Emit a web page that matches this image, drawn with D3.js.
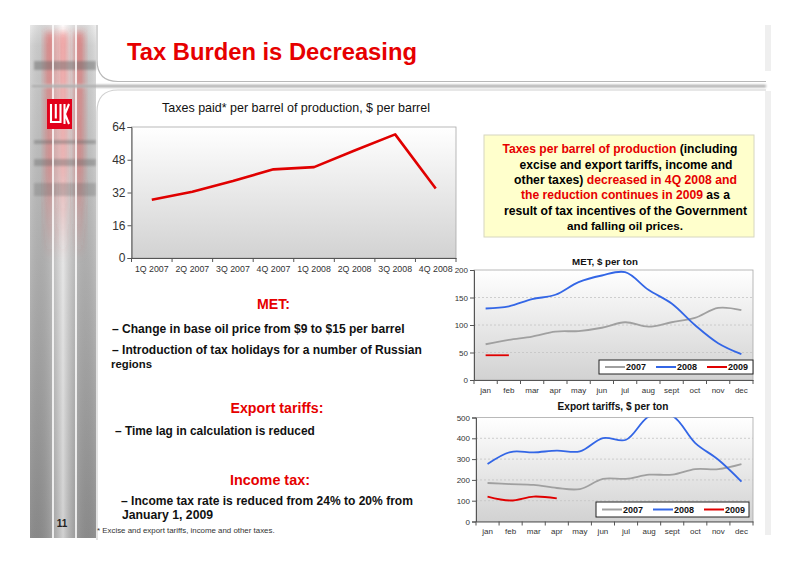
<!DOCTYPE html>
<html>
<head>
<meta charset="utf-8">
<script src="https://cdn.jsdelivr.net/npm/d3@7"></script>
<style>
  body { margin: 0; background: #fff; }
  svg { display: block; font-family: "Liberation Sans", Arial, sans-serif; }
</style>
</head>
<body>
<div id="vis"></div>
<script>
// ---- data ----
var quarters = ['1Q 2007', '2Q 2007', '3Q 2007', '4Q 2007', '1Q 2008', '2Q 2008', '3Q 2008', '4Q 2008'];
var taxesPaid = [28.5, 32.4, 37.6, 43.3, 44.4, 52.5, 60.4, 34];
var taxTicks = [0, 16, 32, 48, 64];

var months = ['jan', 'feb', 'mar', 'apr', 'may', 'jun', 'jul', 'aug', 'sept', 'oct', 'nov', 'dec'];
var met2007 = [65, 73, 79, 88, 89, 95, 105, 97, 105, 113, 131, 127];
var met2008 = [130, 134, 147, 155, 178, 190, 196, 164, 139, 100, 67, 47];
var met2009 = [45, 45];
var metTicks = [0, 50, 100, 150, 200];

var exp2007 = [185, 180, 176, 161, 156, 205, 205, 225, 225, 252, 252, 276];
var exp2008 = [276, 334, 332, 341, 337, 401, 393, 505, 508, 377, 297, 192];
var exp2009 = [120, 101, 120, 111];
var expTicks = [0, 100, 200, 300, 400, 500];

var years = ['2007', '2008', '2009'];
var yearColors = ['#a0a0a0', '#3366e6', '#e00000'];

var W = 800, H = 566;
var svg = d3.select('#vis').append('svg').attr('width', W).attr('height', H);
var defs = svg.append('defs');

function grad(id, stops, horizontal) {
  var g = defs.append('linearGradient').attr('id', id)
    .attr('x1', 0).attr('y1', 0)
    .attr('x2', horizontal ? 1 : 0).attr('y2', horizontal ? 0 : 1);
  stops.forEach(function(s) {
    g.append('stop').attr('offset', s[0]).attr('stop-color', s[1])
      .attr('stop-opacity', s[2] == null ? 1 : s[2]);
  });
}
function blur(id, sd) {
  defs.append('filter').attr('id', id)
    .attr('x', '-50%').attr('y', '-50%').attr('width', '200%').attr('height', '200%')
    .append('feGaussianBlur').attr('stdDeviation', sd);
}
// scale font-size so the text spans the wanted width
function fit(t, w) {
  var fs = parseFloat(t.attr('font-size'));
  var len = t.node().getComputedTextLength();
  if (len > 0) t.attr('font-size', (fs * w / len).toFixed(2));
  return t;
}

grad('stripV', [[0, '#ffffff'], [0.04, '#e8e8e8'], [0.45, '#c8c8c8'], [1, '#9a9a9a']]);
grad('stripH', [[0, '#000', 0.08], [0.5, '#fff', 0.55], [1, '#000', 0.06]], true);
grad('redFade', [[0, '#e83838', 0.55], [0.6, '#e83838', 0.4], [1, '#e83838', 0]]);
grad('plotBg', [[0, '#ffffff'], [1, '#d2d2d2']]);
grad('sep', [[0, '#dddddd'], [0.5, '#888888'], [1, '#dddddd']]);
blur('blur3', 3.5);
blur('blur1', 1.3);

// ---- slide decoration ----
var deco = svg.append('g');
deco.append('rect').attr('x', 30).attr('y', 25).attr('width', 66).attr('height', 513).attr('fill', 'url(#stripV)');
deco.append('rect').attr('x', 30).attr('y', 25).attr('width', 66).attr('height', 513).attr('fill', 'url(#stripH)');
[[50, 9], [63, 8], [79, 9]].forEach(function(c) {
  deco.append('rect').attr('x', c[0] - c[1] / 2).attr('y', 32).attr('width', c[1]).attr('height', 228)
    .attr('fill', 'url(#redFade)').attr('filter', 'url(#blur3)');
});
[[61, 9, 0.45], [140, 4, 0.4], [159, 7, 0.38], [183, 13, 0.28]].forEach(function(b) {
  deco.append('rect').attr('x', 34).attr('y', b[0]).attr('width', 62).attr('height', b[1])
    .attr('fill', '#666').attr('opacity', b[2]).attr('filter', 'url(#blur1)');
});
[53, 76].forEach(function(x) {
  deco.append('line').attr('x1', x).attr('x2', x).attr('y1', 25).attr('y2', 538)
    .attr('stroke', '#fff').attr('stroke-width', 1.6);
});
// separator band
deco.append('rect').attr('x', 32).attr('y', 84.5).attr('width', 734).attr('height', 3.2)
  .attr('fill', 'url(#sep)').attr('filter', 'url(#blur1)');
// title panel
deco.append('path').attr('d', 'M97,25 V60 Q97,81.5 118,81.5 H766')
  .attr('fill', 'none').attr('stroke', '#b8b8b8').attr('stroke-width', 1.2);
// main panel
deco.append('path').attr('d', 'M97,540 V112 Q97,90 118,90 H766')
  .attr('fill', 'none').attr('stroke', '#d0d0d0').attr('stroke-width', 1.2);
deco.append('rect').attr('x', 765).attr('y', 25).attr('width', 6).attr('height', 46).attr('fill', '#efefef');
deco.append('rect').attr('x', 765).attr('y', 91).attr('width', 6).attr('height', 444).attr('fill', '#efefef');

// logo
var logo = svg.append('g');
logo.append('rect').attr('x', 47).attr('y', 99).attr('width', 25).attr('height', 30).attr('fill', '#e2001a');
logo.append('path').attr('d', 'M51,104 V122 H60.5 V104 M55.8,104 V118.5 M64.5,104 V124 M69,104 L65,114 L69,124')
  .attr('fill', 'none').attr('stroke', '#fff').attr('stroke-width', 2.1);

svg.append('text').attr('x', 62).attr('y', 527).attr('text-anchor', 'middle')
  .attr('font-size', 10).attr('font-weight', 'bold').attr('fill', '#222').text('11');

// title
fit(svg.append('text').attr('x', 127).attr('y', 60).attr('font-size', 22)
  .attr('font-weight', 'bold').attr('fill', '#e60000').text('Tax Burden is Decreasing'), 290);

// ---- generic line chart ----
var clipN = 0;
function lineChart(o) {
  var g = svg.append('g');
  var x = d3.scaleBand().domain(o.cats).range([o.x0, o.x1]);
  var y = d3.scaleLinear().domain([0, o.ticks[o.ticks.length - 1]]).range([o.y0, o.y1]);

  g.append('rect').attr('x', o.x0).attr('y', o.y1).attr('width', o.x1 - o.x0).attr('height', o.y0 - o.y1)
    .attr('fill', 'url(#plotBg)').attr('stroke', '#a8a8a8').attr('stroke-width', 0.8);

  if (o.grid) {
    g.selectAll('line.grid').data(o.ticks.slice(1, -1)).enter().append('line')
      .attr('x1', o.x0).attr('x2', o.x1)
      .attr('y1', function(d) { return y(d); }).attr('y2', function(d) { return y(d); })
      .attr('stroke', '#c4c4c4').attr('stroke-width', 0.8).attr('stroke-dasharray', '2,2');
  }

  var ya = g.append('g').attr('transform', 'translate(' + o.x0 + ',0)')
    .call(d3.axisLeft(y).tickValues(o.ticks).tickSize(4).tickPadding(o.ypad));
  var xa = g.append('g').attr('transform', 'translate(0,' + o.y0 + ')')
    .call(d3.axisBottom(x).tickSize(0).tickPadding(o.xpad));
  g.selectAll('line.xt').data(d3.range(o.cats.length + 1)).enter().append('line')
    .attr('x1', function(i) { return o.x0 + i * x.step(); })
    .attr('x2', function(i) { return o.x0 + i * x.step(); })
    .attr('y1', o.y0).attr('y2', o.y0 + 4).attr('stroke', '#555');

  ya.select('.domain').attr('stroke', '#555');
  xa.select('.domain').attr('stroke', '#555');
  ya.selectAll('line').attr('stroke', '#555');
  ya.attr('font-family', null).attr('font-size', null);
  xa.attr('font-family', null).attr('font-size', null);
  ya.selectAll('text').attr('fill', '#333').attr('font-size', o.yfs);
  xa.selectAll('text').attr('fill', '#333').attr('font-size', o.xfs);

  var cid = 'clip' + (clipN++);
  defs.append('clipPath').attr('id', cid).append('rect')
    .attr('x', o.x0).attr('y', o.y1).attr('width', o.x1 - o.x0).attr('height', o.y0 - o.y1);

  var line = d3.line()
    .x(function(d, i) { return x(o.cats[i]) + x.bandwidth() / 2; })
    .y(function(d) { return y(d); })
    .curve(o.curve);
  o.series.forEach(function(s) {
    g.append('path').attr('d', line(s.values)).attr('fill', 'none')
      .attr('stroke', s.color).attr('stroke-width', s.width)
      .attr('stroke-linejoin', 'round').attr('clip-path', 'url(#' + cid + ')');
  });

  if (o.title) {
    fit(g.append('text').attr('x', o.title.x).attr('y', o.title.y).attr('text-anchor', 'middle')
      .attr('font-size', o.title.fs).attr('font-weight', o.title.bold ? 'bold' : 'normal')
      .attr('fill', '#111').text(o.title.text), o.title.w);
  }
  if (o.legend) {
    var L = o.legend;
    g.append('rect').attr('x', L.x).attr('y', L.y).attr('width', L.w).attr('height', L.h)
      .attr('fill', '#fff').attr('stroke', '#222').attr('stroke-width', 1);
    o.series.forEach(function(s, i) {
      var lx = L.x + 6 + i * 51;
      g.append('line').attr('x1', lx).attr('x2', lx + 20)
        .attr('y1', L.y + L.h / 2).attr('y2', L.y + L.h / 2)
        .attr('stroke', s.color).attr('stroke-width', 2);
      g.append('text').attr('x', lx + 21).attr('y', L.y + L.h / 2 + 3.3)
        .attr('font-size', 9).attr('font-weight', 'bold').attr('fill', '#111').text(years[i]);
    });
  }
  return g;
}

// main chart: taxes per barrel
lineChart({
  cats: quarters, ticks: taxTicks,
  x0: 131.5, x1: 456, y0: 258, y1: 127,
  ypad: 2, xpad: 8, yfs: 12, xfs: 8.8, grid: false,
  curve: d3.curveLinear,
  series: [{ values: taxesPaid, color: '#e00000', width: 2.6 }],
  title: { text: 'Taxes paid* per barrel of production, $ per barrel', x: 296, y: 112, fs: 11, w: 268 }
});

// MET
lineChart({
  cats: months, ticks: metTicks,
  x0: 474, x1: 753, y0: 380, y1: 270,
  ypad: 2, xpad: 7, yfs: 8, xfs: 8, grid: true,
  curve: d3.curveCatmullRom.alpha(0.5),
  series: [
    { values: met2007, color: yearColors[0], width: 1.8 },
    { values: met2008, color: yearColors[1], width: 1.8 },
    { values: met2009, color: yearColors[2], width: 1.8 }
  ],
  title: { text: 'MET, $ per ton', x: 605, y: 265, fs: 10, w: 66, bold: true },
  legend: { x: 599, y: 360, w: 154, h: 14 }
});

// Export tariffs
lineChart({
  cats: months, ticks: expTicks,
  x0: 476, x1: 753, y0: 521.5, y1: 417.5,
  ypad: 2, xpad: 7, yfs: 8, xfs: 8, grid: true,
  curve: d3.curveCatmullRom.alpha(0.5),
  series: [
    { values: exp2007, color: yearColors[0], width: 1.8 },
    { values: exp2008, color: yearColors[1], width: 1.8 },
    { values: exp2009, color: yearColors[2], width: 1.8 }
  ],
  title: { text: 'Export tariffs, $ per ton', x: 613, y: 410, fs: 10, w: 111, bold: true },
  legend: { x: 596, y: 502, w: 153, h: 15 }
});

// ---- yellow note box ----
svg.append('rect').attr('x', 484).attr('y', 135).attr('width', 270).attr('height', 102)
  .attr('fill', '#ffffcc').attr('stroke', '#d6d6c0').attr('stroke-width', 1);
var RED = '#e60000';
var noteLines = [
  { y: 153, cx: 620, w: 235, parts: [['Taxes per barrel of production', RED], [' (including', '#000']] },
  { y: 168.5, cx: 626, w: 213, parts: [['excise and export tariffs, income and', '#000']] },
  { y: 184, cx: 625.5, w: 223, parts: [['other taxes) ', '#000'], ['decreased in 4Q 2008 and', RED]] },
  { y: 199, cx: 625.5, w: 209, parts: [['the reduction continues in 2009', RED], [' as a', '#000']] },
  { y: 214.5, cx: 625.5, w: 243, parts: [['result of tax incentives of the Government', '#000']] },
  { y: 229.5, cx: 625, w: 116, parts: [['and falling oil prices.', '#000']] }
];
noteLines.forEach(function(l) {
  var t = svg.append('text').attr('x', l.cx).attr('y', l.y).attr('text-anchor', 'middle')
    .attr('font-size', 10.5).attr('font-weight', 'bold');
  l.parts.forEach(function(p) { t.append('tspan').attr('fill', p[1]).text(p[0]); });
  fit(t, l.w);
});

// ---- left text ----
var leftText = [
  { t: 'MET:', x: 273.5, y: 309, w: 33, red: true },
  { t: '\u2013 Change in base oil price from $9 to $15 per barrel', x: 112, y: 333, w: 293 },
  { t: '\u2013 Introduction of tax holidays for a number of Russian', x: 112, y: 354, w: 310 },
  { t: 'regions', x: 111, y: 368, w: 41 },
  { t: 'Export tariffs:', x: 277, y: 413, w: 93, red: true },
  { t: '\u2013 Time lag in calculation is reduced', x: 115, y: 435, w: 200 },
  { t: 'Income tax:', x: 270, y: 485, w: 80, red: true },
  { t: '\u2013 Income tax rate is reduced from 24% to 20% from', x: 121, y: 505, w: 292 },
  { t: 'January 1, 2009', x: 122, y: 519, w: 91 }
];
leftText.forEach(function(d) {
  var t = svg.append('text').attr('x', d.x).attr('y', d.y)
    .attr('text-anchor', d.red ? 'middle' : 'start')
    .attr('font-size', d.red ? 13 : 11.5).attr('font-weight', 'bold')
    .attr('fill', d.red ? RED : '#111').text(d.t);
  fit(t, d.w);
});
fit(svg.append('text').attr('x', 97).attr('y', 533).attr('font-size', 7).attr('fill', '#333')
  .text('* Excise and export tariffs, income and other taxes.'), 178);
</script>
</body>
</html>
